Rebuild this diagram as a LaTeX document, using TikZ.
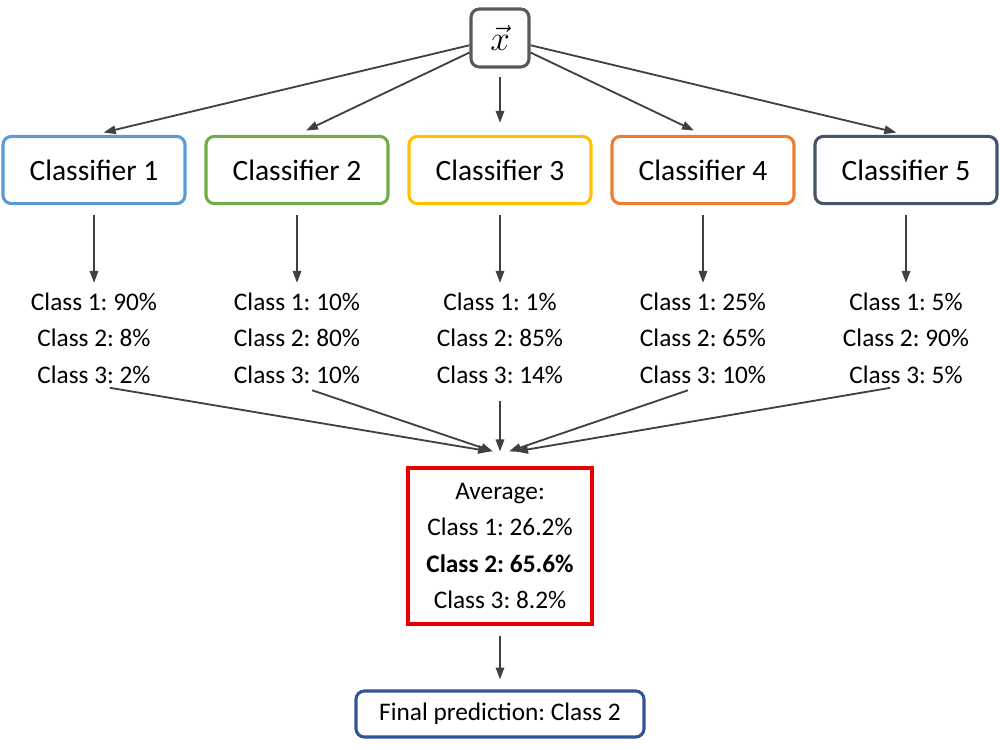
\documentclass[tikz,border=0pt]{standalone}
\usepackage{fontspec}
\setmainfont{Carlito}
\usepackage{xcolor}
\usetikzlibrary{arrows.meta,positioning,calc}
\frenchspacing

\definecolor{cblue}{HTML}{5B9BD5}
\definecolor{cgreen}{HTML}{70AD47}
\definecolor{cgold}{HTML}{FFC000}
\definecolor{corange}{HTML}{ED7D31}
\definecolor{cslate}{HTML}{44546A}
\definecolor{cgray}{HTML}{595959}
\definecolor{cred}{HTML}{E60000}
\definecolor{cnavy}{HTML}{2F5597}
\definecolor{carrow}{HTML}{404040}

\begin{document}
\begin{tikzpicture}[x=0.025cm, y=-0.025cm, every node/.style={font=\fontsize{18}{26}\selectfont}, clf/.style={draw,rounded corners=6pt,line width=2.2pt,minimum width=4.55cm,minimum height=1.68cm,font=\fontsize{21}{25}\selectfont}, res/.style={align=center,inner sep=1pt}, arr/.style={-{Triangle[length=8.5pt,width=6pt]},line width=1.3pt,draw=carrow}]
    \useasboundingbox (0,0) rectangle (1000,750);
    \node[draw=cgray,rounded corners=6pt,line width=2.2pt,minimum width=1.45cm,minimum height=1.45cm,font=\fontsize{24}{28}\selectfont] (x) at (500,38) {$\vec{x}$};
    \foreach \i/\px/\col/\a/\b/\c in {1/94/cblue/90/8/2,2/297/cgreen/10/80/10,3/500/cgold/1/85/14,4/703/corange/25/65/10,5/906/cslate/5/90/5}{
      \node[clf,draw=\col] (c\i) at (\px,170) {Classifier \i};
      \node[res] (r\i) at (\px,338) {Class 1: \a\%\\Class 2: \b\%\\Class 3: \c\%};
      \draw[arr,shorten <=0.25cm,shorten >=0.2cm] (c\i) -- (r\i);
    }
    \node[draw=cred,line width=2.2pt,minimum width=4.6cm,minimum height=3.9cm,align=center] (avg) at (500,546) {Average:\\Class 1: 26.2\%\\\textbf{Class 2: 65.6\%}\\Class 3: 8.2\%};
    \node[draw=cnavy,rounded corners=6pt,line width=2.2pt,minimum width=7.2cm,minimum height=1.15cm] (fin) at (500,714) {Final prediction: Class 2};
    % from input to classifiers
    \foreach \i in {1,2,4,5}{
      \draw[arr,shorten >=0.25cm] (x) -- (c\i.north);
    }
    \draw[arr,shorten <=0.2cm,shorten >=0.3cm] (x) -- (c3);
    % votes into the average
    \foreach \i/\dx in {1/-10,2/-7,3/0,4/9,5/16}{
      \draw[arr,shorten <=0.4cm] (r\i.south) -- ($(avg.north)+(\dx,-15)$);
    }
    \draw[arr,shorten <=0.25cm,shorten >=0.25cm] (avg) -- (fin);
\end{tikzpicture}
\end{document}
